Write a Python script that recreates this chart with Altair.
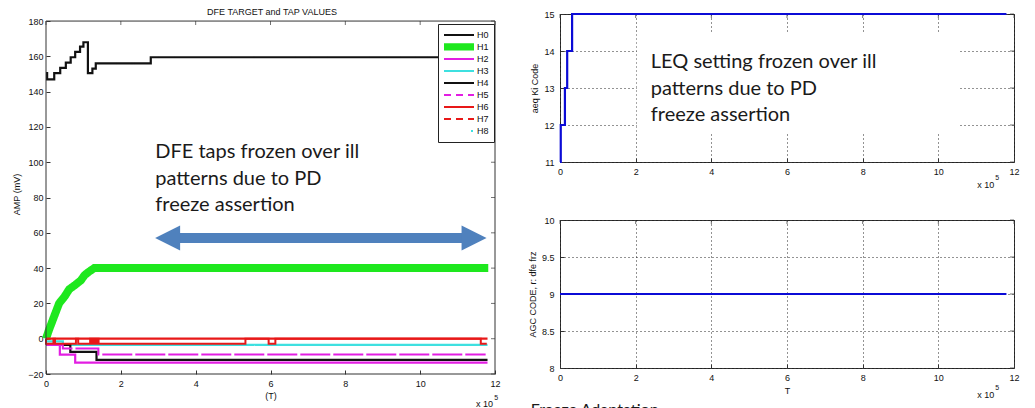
import altair as alt
import pandas as pd

# ---------------- data ----------------
taps = ["H0", "H1", "H2", "H3", "H4", "H5", "H6", "H7", "H8"]
tap_colors = ["#111111", "#1ee81e", "#e21ee2", "#3ee0e0", "#111111",
              "#e21ee2", "#e81818", "#e81818", "#3ee0e0"]
tap_dashes = [[1, 0], [1, 0], [1, 0], [1, 0], [1, 0], [7, 5], [1, 0], [7, 5], [0, 27, 2, 60]]
line_sym = "M -1 0 L 1 0"
bar_sym = ("M -1 -0.17 L 1 -0.17 M -1 -0.085 L 1 -0.085 M -1 0 L 1 0 "
           "M -1 0.085 L 1 0.085 M -1 0.17 L 1 0.17")
tap_symbols = [line_sym, bar_sym] + [line_sym] * 7

h0_t = [0, 0.03, 0.22, 0.38, 0.53, 0.66, 0.78, 0.91, 1.0, 1.12, 1.24, 1.33, 2.8, 11.8]
h0_v = [150.5, 147, 150.5, 153.5, 156.5, 159.5, 162.5, 165.5, 168, 150.5, 153, 156, 159.5, 159.5]

h1_t = [0, 0.08, 0.17, 0.26, 0.35, 0.5, 0.62, 0.78, 0.93, 1.03, 1.15, 1.29, 11.82]
h1_v = [0, 5, 10, 15, 20, 24, 28, 30.5, 33, 36, 38, 40, 40]

h2_t = [0, 0.37, 0.78, 11.8]
h2_v = [-3.5, -9, -13.5, -13.5]
h3_t = [0, 0.45, 11.8]
h3_v = [-1.5, -3.5, -3.5]
h4_t = [0, 0.65, 1.35, 11.8]
h4_v = [-3.5, -7.5, -12, -12]
h5_t = [0, 0.45, 1.4, 11.75]
h5_v = [-3.5, -5.5, -9, -9]
h6_t = [0, 11.8]
h6_v = [0, 0]
h7_t = [0, 0, 0.2, 0.24, 0.8, 0.86, 1.18, 1.205, 1.23, 1.255, 1.28, 1.305, 1.33, 1.355,
        1.38, 1.405, 1.44, 5.33, 5.95, 6.13, 11.62, 11.78]
h7_v = [0, -2.8, 0, -2.8, 0, -2.8, 0, -2.8, 0, -2.8, 0, -2.8, 0, -2.8,
        0, -2.8, -2.8, 0, -2.8, 0, -2.8, -2.8]

leq_t = [0, 0.02, 0.13, 0.19, 0.32, 11.8]
leq_v = [11, 12, 13, 14, 15, 15]
agc_t = [0, 11.8]
agc_v = [9, 9]

x_ticks = [0, 2, 4, 6, 8, 10, 12]
left_y_ticks = [-20, 0, 20, 40, 60, 80, 100, 120, 140, 160, 180]
top_y_ticks = [11, 12, 13, 14, 15]
bot_y_ticks = [8, 8.5, 9, 9.5, 10]

left_title = "DFE TARGET and TAP VALUES"
left_note = "DFE taps frozen over ill\npatterns due to PD\nfreeze assertion"
right_note = "LEQ setting frozen over ill\npatterns due to PD\nfreeze assertion"
bottom_note = "Freeze Adaptation"

# frame of the left axes box and annotation anchors (data units)
frame_t = [0, 12]
frame_v = [-20, 180]
left_title_pos = (6.04, 187.4)
left_note_pos = (2.92, 102.2)
right_note_pos = (2.4, 13.53)
note_box_t = [2.03, 10.57]
note_box_v = [11.78, 14.51]
arrow_t = [2.92, 11.77]
arrow_v = 57
arrow_head = 0.33
bottom_note_pos = (-0.77, 7.54)
exp_left = (11.95, -37.0, -33.6)
exp_top = (11.48, 10.38, 10.57)
exp_bot = (11.48, 7.635, 7.73)

arrow_color = "#4f81bd"
line_blue = "#0b0bd6"
AXF = "Liberation Sans"
NOTEF = "Lato"

# ---------------- helpers ----------------
def series(name, t, v):
    return pd.DataFrame({"t": t, "v": v, "tap": name})

def txt(vals, **kw):
    return alt.Chart(pd.DataFrame({"t": [vals[0]], "v": [vals[1]], "s": [vals[2]]})).mark_text(**kw)

def inner_ticks(X, Y, xt, yt, xmax, ymax):
    """MATLAB-style inward ticks on the top and right edges of the box."""
    top_t = alt.Chart(pd.DataFrame({"t": xt, "v": [ymax] * len(xt)})).mark_tick(
        orient="vertical", size=4, thickness=1, color="#333", yOffset=2).encode(x=X(), y=Y())
    right_t = alt.Chart(pd.DataFrame({"t": [xmax] * len(yt), "v": yt})).mark_tick(
        orient="horizontal", size=4, thickness=1, color="#333", xOffset=-2).encode(x=X(), y=Y())
    return [top_t, right_t]

xs_left = alt.Scale(domain=[0, 12], nice=False)
ys_left = alt.Scale(domain=[-20, 184], nice=False)

def xax_left():
    return alt.Axis(values=x_ticks, title="(T)", offset=-4, tickSize=4, labelFlush=False,
                    labelPadding=5, titlePadding=3, grid=False, domain=False)

def yax_left():
    return alt.Axis(values=left_y_ticks, title="AMP (mV)", offset=-4, tickSize=4, labelFlush=False,
                    labelPadding=3, titlePadding=6, grid=False, domain=False, format="d")

legend = alt.Legend(title=None, orient="none", legendX=392, legendY=10, fillColor="white",
                    strokeColor="#222", padding=5, symbolSize=900, symbolStrokeWidth=2,
                    symbolOpacity=1, labelFont=AXF, labelFontSize=9, labelColor="#111",
                    rowPadding=0, clipHeight=11.8, labelOffset=2)

def color_enc():
    return alt.Color("tap:N", scale=alt.Scale(domain=taps, range=tap_colors), legend=legend)

def dash_enc():
    return alt.StrokeDash("tap:N", scale=alt.Scale(domain=taps, range=tap_dashes), legend=legend)

X = lambda f="t": alt.X(f"{f}:Q", scale=xs_left, axis=xax_left())
Y = lambda f="v": alt.Y(f"{f}:Q", scale=ys_left, axis=yax_left())

h1_layer = alt.Chart(series("H1", h1_t, h1_v)).mark_line(strokeCap="butt", strokeWidth=8).encode(
    x=X(), y=Y(), color=color_enc(), strokeDash=dash_enc())

step_df = pd.concat([series("H0", h0_t, h0_v), series("H2", h2_t, h2_v),
                     series("H3", h3_t, h3_v), series("H4", h4_t, h4_v),
                     series("H6", h6_t, h6_v)])
step_layer = alt.Chart(step_df).mark_line(interpolate="step-after", strokeWidth=2.2).encode(
    x=X(), y=Y(), color=color_enc(), strokeDash=dash_enc())

legend_layer = alt.Chart(step_df).transform_filter("false").mark_point(filled=False, opacity=1).encode(
    x=X(), y=Y(), color=color_enc(), strokeDash=dash_enc(),
    shape=alt.Shape("tap:N", scale=alt.Scale(domain=taps, range=tap_symbols), legend=legend))

h5_layer = alt.Chart(series("H5", h5_t, h5_v)).mark_line(
    interpolate="step-after", color=tap_colors[5], strokeWidth=2, strokeDash=[30, 3]).encode(
    x=X(), y=Y())

h7_layer = alt.Chart(series("H7", h7_t, h7_v)).mark_line(
    interpolate="step-after", color=tap_colors[7], strokeWidth=2).encode(x=X(), y=Y())

shaft = alt.Chart(pd.DataFrame({"t0": [arrow_t[0] + arrow_head], "t1": [arrow_t[1] - arrow_head],
                                "v": [arrow_v]})).mark_rule(color=arrow_color, strokeWidth=10).encode(
    x=X("t0"), x2="t1:Q", y=Y())
head_l = alt.Chart(pd.DataFrame({"t": [arrow_t[0] + arrow_head], "v": [arrow_v]})).mark_point(
    filled=True, opacity=1, size=625, color=arrow_color, strokeWidth=0,
    shape="M -1 0 L 1 -1 L 1 1 Z").encode(x=X(), y=Y())
head_r = alt.Chart(pd.DataFrame({"t": [arrow_t[1] - arrow_head], "v": [arrow_v]})).mark_point(
    filled=True, opacity=1, size=625, color=arrow_color, strokeWidth=0,
    shape="M 1 0 L -1 -1 L -1 1 Z").encode(x=X(), y=Y())

frame = alt.Chart(pd.DataFrame({"t0": [frame_t[0]], "t1": [frame_t[1]],
                                "v0": [frame_v[0]], "v1": [frame_v[1]]})).mark_rect(
    fillOpacity=0, stroke="#333", strokeWidth=1).encode(x=X("t0"), x2="t1:Q", y=Y("v0"), y2="v1:Q")

ltitle = txt((left_title_pos[0], left_title_pos[1], left_title), align="center", baseline="top",
             font=AXF, fontSize=9, color="#111").encode(x=X(), y=Y(), text="s:N")
lnote = txt((left_note_pos[0], left_note_pos[1], left_note), align="left", baseline="alphabetic",
            font=NOTEF, fontSize=20, lineHeight=26.3, lineBreak="\n", color="#1a1a1a").encode(
    x=X(), y=Y(), text="s:N")
exp_l1 = txt((exp_left[0], exp_left[1], "x 10"), align="right", baseline="middle", font=AXF,
             fontSize=9, color="#111").encode(x=X(), y=Y(), text="s:N")
exp_l2 = txt((exp_left[0], exp_left[2], "5"), align="left", baseline="middle", font=AXF,
             fontSize=7, color="#111", dx=1).encode(x=X(), y=Y(), text="s:N")

left = alt.layer(h1_layer, step_layer, h5_layer, h7_layer, legend_layer, shaft, head_l, head_r,
                 frame, *inner_ticks(X, Y, x_ticks, left_y_ticks, frame_t[1], frame_v[1]),
                 ltitle, lnote, exp_l1, exp_l2).properties(
    width=449, height=360, view=alt.ViewBackground(stroke=None))

# ---------------- right charts ----------------
xs_r = alt.Scale(domain=[0, 12], nice=False)

def xax_r(title):
    return alt.Axis(values=x_ticks, offset=-4, tickSize=4, labelPadding=5, labelFlush=False,
                    titlePadding=4, domain=False, grid=True, title=title)

def yax_r(title, vals, fmt):
    return alt.Axis(values=vals, title=title, offset=-4, tickSize=4, labelPadding=6, titlePadding=4,
                    labelFlush=False, domain=False, grid=True, format=fmt)

ys_top = alt.Scale(domain=[11, 15], nice=False)
XT = lambda f="t": alt.X(f"{f}:Q", scale=xs_r, axis=xax_r(None))
YT = lambda f="v": alt.Y(f"{f}:Q", scale=ys_top, axis=yax_r("aeq Ki Code", top_y_ticks, "d"))

box = alt.Chart(pd.DataFrame({"t0": [note_box_t[0]], "t1": [note_box_t[1]],
                              "v0": [note_box_v[0]], "v1": [note_box_v[1]]})).mark_rect(
    color="white").encode(x=XT("t0"), x2="t1:Q", y=YT("v0"), y2="v1:Q")
leq_line = alt.Chart(pd.DataFrame({"t": leq_t, "v": leq_v})).mark_line(
    interpolate="step-after", color=line_blue, strokeWidth=2.2).encode(x=XT(), y=YT())
rnote = txt((right_note_pos[0], right_note_pos[1], right_note), align="left", baseline="alphabetic",
            font=NOTEF, fontSize=20, lineHeight=26.3, lineBreak="\n", color="#1a1a1a").encode(
    x=XT(), y=YT(), text="s:N")
exp_t1 = txt((exp_top[0], exp_top[1], "x 10"), align="right", baseline="middle", font=AXF,
             fontSize=9, color="#111").encode(x=XT(), y=YT(), text="s:N")
exp_t2 = txt((exp_top[0], exp_top[2], "5"), align="left", baseline="middle", font=AXF,
             fontSize=7, color="#111", dx=1).encode(x=XT(), y=YT(), text="s:N")

top = alt.layer(box, *inner_ticks(XT, YT, x_ticks, top_y_ticks, 12, 15), leq_line, rnote,
                exp_t1, exp_t2).properties(width=454, height=148)

ys_bot = alt.Scale(domain=[8, 10], nice=False)
XB = lambda f="t": alt.X(f"{f}:Q", scale=xs_r, axis=xax_r("T"))
YB = lambda f="v": alt.Y(f"{f}:Q", scale=ys_bot, axis=yax_r("AGC CODE, r: dfe frz", bot_y_ticks, "~g"))

agc_line = alt.Chart(pd.DataFrame({"t": agc_t, "v": agc_v})).mark_line(
    color=line_blue, strokeWidth=2.2).encode(x=XB(), y=YB())
exp_b1 = txt((exp_bot[0], exp_bot[1], "x 10"), align="right", baseline="middle", font=AXF,
             fontSize=9, color="#111").encode(x=XB(), y=YB(), text="s:N")
exp_b2 = txt((exp_bot[0], exp_bot[2], "5"), align="left", baseline="middle", font=AXF,
             fontSize=7, color="#111", dx=1).encode(x=XB(), y=YB(), text="s:N")
bnote = txt((bottom_note_pos[0], bottom_note_pos[1], bottom_note), align="left", baseline="top",
            font=NOTEF, fontSize=16, color="#1a1a1a").encode(x=XB(), y=YB(), text="s:N")

bottom = alt.layer(*inner_ticks(XB, YB, x_ticks, bot_y_ticks, 12, 10), agc_line, exp_b1, exp_b2,
                   bnote).properties(width=454, height=148)

right = alt.vconcat(top, bottom, spacing=24)

chart = alt.hconcat(left, right, spacing=22).properties(
    padding={"left": 4, "top": 0, "right": 0, "bottom": 0}
).configure_view(stroke="#333", strokeWidth=1).configure_axis(
    labelFont=AXF, labelFontSize=9, labelColor="#111", titleFont=AXF, titleFontSize=9,
    titleFontWeight="normal", titleColor="#111", tickColor="#333", tickWidth=1,
    gridColor="#111", gridDash=[1, 3], gridWidth=1, gridOpacity=0.9
)

chart.save("out.html", embed_options={"renderer": "svg", "actions": False})
